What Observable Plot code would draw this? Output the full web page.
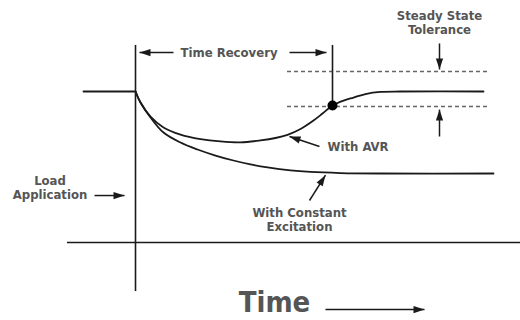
<!DOCTYPE html>
<html>
<head>
<meta charset="utf-8">
<script src="https://cdn.jsdelivr.net/npm/d3@7"></script>
<script src="https://cdn.jsdelivr.net/npm/@observablehq/plot@0.6"></script>
<style>
  html, body { margin: 0; padding: 0; background: #fff; }
  #chart { width: 520px; height: 320px; }
</style>
</head>
<body>
<div id="chart"></div>
<script>
// ---- data (time units t, voltage %) ----
const avrT = [0, 1, 3, 5.6, 9, 13, 17, 21, 25, 28, 30.4, 33, 35.6, 37.4, 39.4, 41.6, 43.6, 46, 49, 53, 69.6];
const avrV = [100, 92.7, 83.4, 76.2, 71.5, 68.5, 66.9, 66.3, 67.6, 69.2, 71.3, 75.2, 80.8, 85.4, 90.7, 94.0, 96.0, 98.3, 99.7, 100, 100];
const constT = [0, 1, 3, 5.6, 9, 12.4, 16, 19.6, 23, 26.4, 31, 35, 41, 49, 71.6];
const constV = [100, 92.7, 82.8, 72.8, 66.2, 61.6, 57.6, 54.3, 51.7, 49.7, 47.7, 46.7, 46.0, 45.7, 45.7];
const preLoadT = [-10.4, 0];
const preLoadV = [100, 100];
const toleranceUpper = 113.2;
const toleranceLower = 90.1;
const toleranceSpan = [30.4, 70.4];
const recoveryT = 39.4;
const recoveryV = 90.7;

const xDomain = [-27, 77];
const yDomain = [-51.66, 160.26];
const W = 520, H = 320;
const kx = W / (xDomain[1] - xDomain[0]);
const ky = H / (yDomain[1] - yDomain[0]);

// arrows: [x1, y1, x2(tip), y2(tip)]
const arrows = [
  {x1: 7.6, y1: 125.8, x2: 0.8, y2: 125.8},     // time recovery left
  {x1: 30.8, y1: 125.8, x2: 38.2, y2: 125.8},   // time recovery right
  {x1: 60.8, y1: 131.8, x2: 60.8, y2: 114.6},   // tolerance down
  {x1: 60.8, y1: 70.2, x2: 60.8, y2: 88.0},     // tolerance up
  {x1: 36.8, y1: 63.6, x2: 30.8, y2: 70.2},     // with AVR
  {x1: 34.8, y1: 27.8, x2: 38.0, y2: 44.6},     // constant excitation
  {x1: -8.2, y1: 31.1, x2: -2.2, y2: 31.1},     // load application
  {x1: 38.0, y1: -44.4, x2: 57.8, y2: -44.4}    // time
];
arrows.forEach(a => {
  const dx = (a.x2 - a.x1) * kx, dy = -(a.y2 - a.y1) * ky;
  a.rot = Math.atan2(dx, -dy) * 180 / Math.PI;
});

const startLabels = [
  {t: 9.0, v: 125.8, text: "Time Recovery"},
  {t: 38.4, v: 63.4, text: "With AVR"}
];
const middleLabels = [
  {t: 60.8, v: 150.3, text: "Steady State"},
  {t: 60.8, v: 141.1, text: "Tolerance"},
  {t: -17.1, v: 40.6, text: "Load"},
  {t: -17.1, v: 31.3, text: "Application"},
  {t: 32.8, v: 19.4, text: "With Constant"},
  {t: 32.8, v: 10.1, text: "Excitation"}
];
const axisTitle = ["Time"];

const avr = avrT.map((t, i) => ({t, v: avrV[i]}));
const cst = constT.map((t, i) => ({t, v: constV[i]}));
const pre = preLoadT.map((t, i) => ({t, v: preLoadV[i]}));

const headSymbol = {
  draw(ctx, size) {
    const L = 11, w = 3.6;
    ctx.moveTo(0, 0);
    ctx.lineTo(w, L);
    ctx.lineTo(-w, L);
    ctx.closePath();
  }
};

const FONT = "'DejaVu Sans Condensed', 'Liberation Sans Narrow', Roboto, sans-serif";
const INK = "#1a1a1a";
const TXT = "#555";

const plot = Plot.plot({
  width: W, height: H,
  margin: 0,
  x: {domain: xDomain, axis: null},
  y: {domain: yDomain, axis: null},
  marks: [
    // axes
    Plot.ruleY([0], {x1: -13.6, x2: 77, stroke: INK, strokeWidth: 1.6}),
    Plot.ruleX([0], {y1: -32.5, y2: 130.5, stroke: INK, strokeWidth: 1.6}),
    // tolerance band
    Plot.ruleY([toleranceUpper, toleranceLower], {x1: toleranceSpan[0], x2: toleranceSpan[1], stroke: "#666", strokeWidth: 1.4, strokeDasharray: "4,3"}),
    // recovery marker
    Plot.ruleX([recoveryT], {y1: recoveryV, y2: 130.5, stroke: INK, strokeWidth: 1.6}),
    // curves
    Plot.line(pre, {x: "t", y: "v", stroke: INK, strokeWidth: 1.8}),
    Plot.line(cst, {x: "t", y: "v", stroke: INK, strokeWidth: 1.8, curve: "catmull-rom"}),
    Plot.line(avr, {x: "t", y: "v", stroke: INK, strokeWidth: 1.8, curve: "catmull-rom"}),
    Plot.dot([{t: recoveryT, v: recoveryV}], {x: "t", y: "v", r: 5, fill: "#000"}),
    // arrows
    Plot.link(arrows, {x1: "x1", y1: "y1", x2: "x2", y2: "y2", stroke: INK, strokeWidth: 1.5}),
    Plot.dot(arrows, {x: "x2", y: "y2", symbol: headSymbol, rotate: "rot", fill: INK, stroke: "none", r: 4}),
    // labels
    Plot.text(startLabels, {x: "t", y: "v", text: "text", textAnchor: "start", fontSize: 13, fontWeight: "bold", fill: TXT, fontFamily: FONT}),
    Plot.text(middleLabels, {x: "t", y: "v", text: "text", textAnchor: "middle", fontSize: 13, fontWeight: "bold", fill: TXT, fontFamily: FONT}),
    Plot.text(axisTitle, {x: 27.8, y: -40.2, text: d => d, fontSize: 29, fontWeight: "bold", fill: TXT, fontFamily: FONT})
  ]
});
document.getElementById("chart").appendChild(plot);
</script>
</body>
</html>
